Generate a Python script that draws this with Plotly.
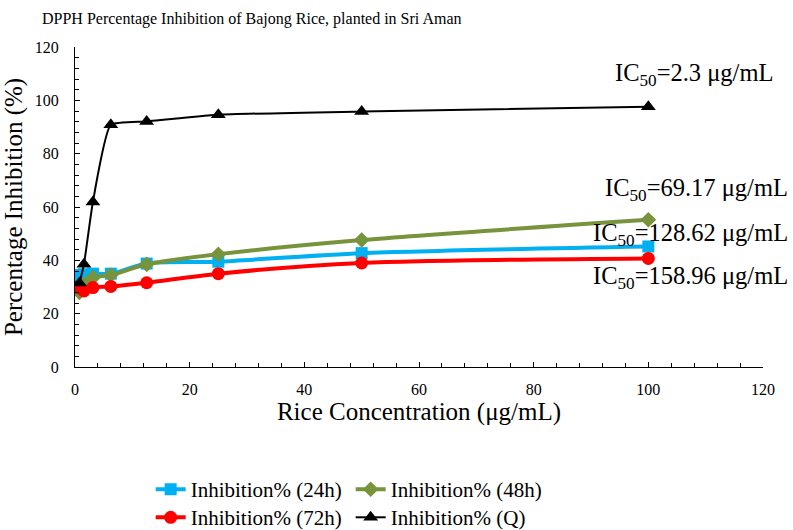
import plotly.graph_objects as go

conc = [0.78, 1.56, 3.125, 6.25, 12.5, 25, 50, 100]
inh_24h = [34.5, 34.8, 35.0, 35.0, 38.8, 39.5, 42.7, 45.2]
inh_48h = [28.0, 31.0, 33.5, 34.5, 38.5, 42.3, 47.6, 55.2]
inh_72h = [29.5, 28.5, 29.8, 30.2, 31.6, 35.0, 39.0, 40.7]
inh_q = [31.5, 38.5, 61.9, 90.8, 92.1, 94.6, 95.8, 97.6]

series_names = ["Inhibition% (24h)", "Inhibition% (48h)", "Inhibition% (72h)", "Inhibition% (Q)"]
ic50_labels = ["IC<sub>50</sub>=128.62 μg/mL", "IC<sub>50</sub>=69.17 μg/mL",
               "IC<sub>50</sub>=158.96 μg/mL", "IC<sub>50</sub>=2.3 μg/mL"]
ic50_y = [49.6, 66.5, 33.5, 109.6]

FONT = "Liberation Serif, Times New Roman, serif"

fig = go.Figure()
styles = [
    dict(color="#00B0F0", width=4, symbol="square", size=12, legend="legend", smooth=0.8),
    dict(color="#77933C", width=4, symbol="diamond", size=12, legend="legend", smooth=0.8),
    dict(color="#FF0000", width=4, symbol="circle", size=13, legend="legend2", smooth=0.8),
    dict(color="#000000", width=2, symbol="triangle-up", size=13, legend="legend2", smooth=0.45),
]
for name, ys, st in zip(series_names, [inh_24h, inh_48h, inh_72h, inh_q], styles):
    fig.add_trace(go.Scatter(
        x=conc, y=ys, name=name, mode="lines+markers",
        line=dict(color=st["color"], width=st["width"], shape="spline", smoothing=st["smooth"]),
        marker=dict(color=st["color"], symbol=st["symbol"], size=st["size"]),
        legend=st["legend"],
    ))

xshifts = [27, 27, 27, 12]
for lab, yv, xs in zip(ic50_labels, ic50_y, xshifts):
    fig.add_annotation(x=1, xref="paper", y=yv, yref="y", text=lab, showarrow=False,
                       xanchor="right", yanchor="middle", xshift=xs,
                       font=dict(family=FONT, size=24.5, color="black"))

axis_common = dict(
    showline=True, linecolor="black", linewidth=1, showgrid=False, zeroline=False,
    ticks="inside", ticklen=5, tickcolor="black", tickwidth=1,
    tickfont=dict(family=FONT, size=16, color="black"),
    minor=dict(ticks="inside", ticklen=4, dtick=4, tickcolor="black", tickwidth=1),
)

fig.update_layout(
    width=793, height=530,
    margin=dict(l=72, r=30, t=47, b=163),
    paper_bgcolor="white", plot_bgcolor="white",
    font=dict(family=FONT, color="black"),
    title=dict(text="DPPH Percentage Inhibition of Bajong Rice, planted in Sri Aman",
               x=0.053, xanchor="left", y=0.975, yanchor="top",
               font=dict(family=FONT, size=16, color="black")),
    xaxis=dict(range=[0, 120], dtick=20, tick0=0, ticklabelstandoff=8,
               title=dict(text="Rice Concentration (μg/mL)", font=dict(family=FONT, size=25, color="black"), standoff=5),
               **axis_common),
    yaxis=dict(range=[0, 120], dtick=20, tick0=0, ticklabelstandoff=12,
               title=dict(text="Percentage Inhibition (%)", font=dict(family=FONT, size=25, color="black"), standoff=5),
               **axis_common),
    legend=dict(orientation="h", xref="container", yref="container", x=0.19, y=0.115,
                xanchor="left", yanchor="top", entrywidth=155, entrywidthmode="pixels",
                font=dict(family=FONT, size=21, color="black"), bgcolor="rgba(0,0,0,0)"),
    legend2=dict(orientation="h", xref="container", yref="container", x=0.19, y=0.062,
                 xanchor="left", yanchor="top", entrywidth=155, entrywidthmode="pixels",
                 font=dict(family=FONT, size=21, color="black"), bgcolor="rgba(0,0,0,0)"),
    showlegend=True,
)

fig.write_html("out.html")
